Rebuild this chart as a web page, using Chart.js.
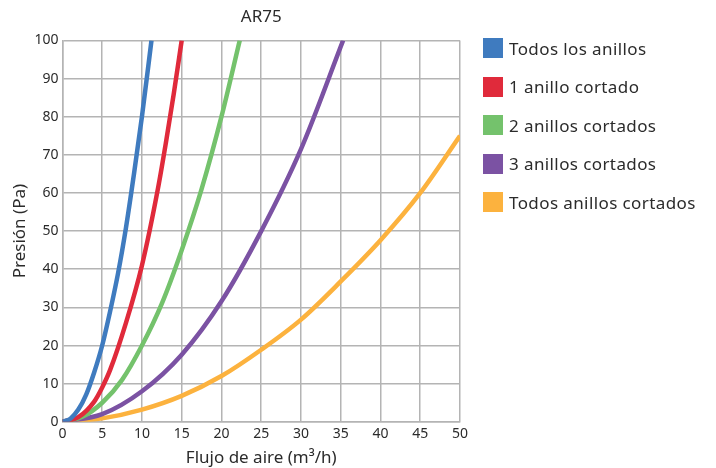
<!DOCTYPE html>
<html lang="es">
<head>
    <meta charset="UTF-8">
    <title>AR75</title>
    <script src="https://cdn.jsdelivr.net/npm/chart.js"></script>
    <style>
        body { margin: 0; background: #fff; }
        .chart-container { position: relative; width: 716px; height: 468px; }
        /* Leyenda a la derecha */
        #legend { position: absolute; left: 483px; top: 38px; margin: 0; padding: 0; list-style: none;
                  font-family: 'Noto Sans', sans-serif; font-size: 17px; letter-spacing: 0.4px; color: #2b2b2b; }
        #legend li { display: flex; align-items: center; height: 20px; margin-bottom: 18.5px; white-space: nowrap; }
        #legend span { display: inline-block; width: 20px; height: 20px; margin-right: 6px; }
    </style>
</head>
<body>
    <div class="chart-container">
        <canvas id="ar75Chart"></canvas>
        <ul id="legend"></ul>
    </div>

    <script>
        // Datos
        const seriesNames = ['Todos los anillos', '1 anillo cortado', '2 anillos cortados', '3 anillos cortados', 'Todos anillos cortados'];
        const seriesColors = ['#3f7bbf', '#e02a3b', '#74c26c', '#7b52a3', '#fcb23e'];

        const blueFlow = [0, 1, 2, 3, 4, 5, 6, 7, 8, 9, 10, 11.2];
        const bluePressure = [0, 0.8, 3.2, 7.2, 13, 20, 29, 39, 51, 65, 80, 100];

        const redFlow = [0, 2, 4, 5, 6, 8, 10, 12, 13, 14, 15];
        const redPressure = [0, 1.2, 5.3, 9, 13.6, 26, 41, 61, 73, 86, 100];

        const greenFlow = [0, 2.5, 5, 7.5, 10, 12.5, 15, 17.5, 20, 22.3];
        const greenPressure = [0, 1.3, 5, 11, 20, 31, 45, 61, 80, 100];

        const purpleFlow = [0, 5, 10, 15, 20, 25, 30, 35.3];
        const purplePressure = [0, 2, 8, 17.6, 31.6, 50, 71.5, 100];

        const orangeFlow = [0, 5, 10, 15, 20, 25, 30, 35, 40, 45, 50];
        const orangePressure = [0, 0.9, 3.2, 6.8, 12, 18.9, 26.8, 36.8, 47.6, 60, 75];

        const xTicks = [0, 5, 10, 15, 20, 25, 30, 35, 40, 45, 50];
        const yTicks = [0, 10, 20, 30, 40, 50, 60, 70, 80, 90, 100];

        const flows = [blueFlow, redFlow, greenFlow, purpleFlow, orangeFlow];
        const pressures = [bluePressure, redPressure, greenPressure, purplePressure, orangePressure];

        const textColor = '#2b2b2b';
        const gridColor = '#b4b4b4';
        const fontFamily = 'Noto Sans';

        const datasets = seriesNames.map((name, i) => ({
            label: name,
            data: flows[i].map((x, j) => ({ x: x, y: pressures[i][j] })),
            borderColor: seriesColors[i],
            backgroundColor: seriesColors[i],
            borderWidth: 4.5,
            pointRadius: 0,
            cubicInterpolationMode: 'monotone',
            fill: false
        }));

        // leyenda en HTML
        const legend = document.getElementById('legend');
        seriesNames.forEach((name, i) => {
            const li = document.createElement('li');
            li.innerHTML = '<span style="background:' + seriesColors[i] + '"></span>' + name;
            legend.appendChild(li);
        });

        new Chart(document.getElementById('ar75Chart'), {
            type: 'line',
            data: { datasets },
            options: {
                responsive: true,
                maintainAspectRatio: false,
                animation: false,
                layout: { padding: { left: 8, right: 256, top: 7, bottom: 0 } },
                plugins: {
                    title: {
                        display: true,
                        fullSize: false,
                        text: 'AR75',
                        color: textColor,
                        font: { family: fontFamily, size: 17, weight: 'normal' },
                        padding: { top: 0, bottom: 13 }
                    },
                    legend: { display: false },
                    tooltip: { enabled: false }
                },
                scales: {
                    x: {
                        type: 'linear',
                        min: 0,
                        max: 50,
                        afterBuildTicks: axis => { axis.ticks = xTicks.map(v => ({ value: v })); },
                        ticks: { color: textColor, font: { family: fontFamily, size: 14 }, padding: 4, maxRotation: 0 },
                        grid: { color: gridColor, lineWidth: 1.5, drawTicks: false },
                        border: { color: gridColor, width: 1.5 },
                        title: {
                            display: true,
                            text: 'Flujo de aire (m³/h)',
                            color: textColor,
                            font: { family: fontFamily, size: 17 },
                            padding: { top: 1, bottom: 0 }
                        }
                    },
                    y: {
                        min: 0,
                        max: 100,
                        afterBuildTicks: axis => { axis.ticks = yTicks.map(v => ({ value: v })); },
                        ticks: { color: textColor, font: { family: fontFamily, size: 14 }, padding: 4 },
                        grid: { color: gridColor, lineWidth: 1.5, drawTicks: false },
                        border: { color: gridColor, width: 1.5 },
                        title: {
                            display: true,
                            text: 'Presión (Pa)',
                            color: textColor,
                            font: { family: fontFamily, size: 17 },
                            padding: { top: 2, bottom: 0 }
                        }
                    }
                }
            }
        });
    </script>
</body>
</html>
